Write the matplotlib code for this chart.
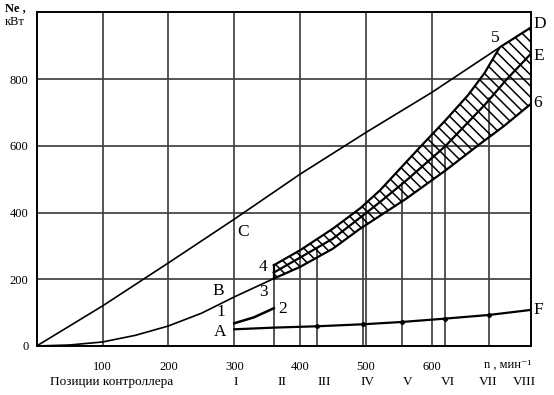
import matplotlib.pyplot as plt
from matplotlib.transforms import blended_transform_factory

plt.rcParams['font.family'] = ['Liberation Serif', 'DejaVu Serif']
plt.rcParams['hatch.linewidth'] = 1.1

# Лінія OC-5 (обмеження потужності)
c_n = [0, 100, 200, 300, 400, 500, 600, 703]
c_N = [0, 120, 249, 380, 515, 640, 760, 895]

# Крива OB-3
b_n = [0, 50, 100, 150, 200, 250, 300, 360]
b_N = [0, 3, 12, 32, 60, 98, 147, 202]

# Зона (верхня, середня, нижня межі)
up_n = [360, 400, 450, 492, 521, 583, 620, 655, 680, 703, 750]
up_N = [242, 287, 352, 414, 466, 598, 675, 752, 818, 895, 954]
mid_n = [360, 400, 450, 492, 521, 560, 620, 680, 714, 750]
mid_N = [220, 265, 322, 386, 431, 494, 598, 722, 800, 875]
low_n = [360, 400, 450, 490, 560, 620, 668, 710, 750]
low_N = [202, 237, 292, 350, 440, 525, 598, 660, 725]

# Лінія 1-2 та A-F
l12_n = [300, 330, 360]
l12_N = [68, 86, 113]
af_n = [300, 360, 425, 495, 555, 620, 687, 750]
af_N = [50, 55, 59, 65, 72, 82, 93, 108]

# Позиції контролера
pos_labels = ['I', 'II', 'III', 'IV', 'V', 'VI', 'VII', 'VIII']
pos_label_n = [302, 372, 437, 503, 563, 624, 686, 741]
pos_n = [360, 425, 496, 555, 620, 687]
pos_top = [242, 290, 386, 488, 598, 742]

# Позначки точок
marks = ['C', 'B', '1', 'A', '4', '3', '2', '5']
marks_n = [314, 275, 279, 279, 343, 345, 374, 696]
marks_N = [342, 164, 102, 43, 237, 161, 111, 924]
right_marks = ['D', 'E', '6', 'F']
right_N = [965, 870, 729, 108]

fig = plt.figure(figsize=(5.54, 3.95), dpi=100)
ax = fig.add_axes([0.0662, 0.1241, 0.8917, 0.8448])
ax.set_xlim(0, 750)
ax.set_ylim(0, 1000)

grid_kw = dict(color='0.25', lw=1.25, zorder=1)
for x in [100, 200, 300, 400, 500, 600]:
    ax.axvline(x, **grid_kw)
for y in [200, 400, 600, 800]:
    ax.axhline(y, **grid_kw)
for x, top in zip(pos_n, pos_top):
    ax.plot([x, x], [0, top], **grid_kw)

for s in ax.spines.values():
    s.set_linewidth(1.4)

ax.plot(c_n, c_N, color='black', lw=1.2, zorder=3)
ax.plot(b_n, b_N, color='black', lw=1.2, zorder=3)

# Заштрихована зона
ax.fill(up_n + low_n[::-1], up_N + low_N[::-1], facecolor='none',
        edgecolor='black', lw=0, hatch='\\\\\\', zorder=2)
ax.plot(up_n, up_N, color='black', lw=1.6, zorder=3)
ax.plot(mid_n, mid_N, color='black', lw=1.6, zorder=3)
ax.plot(low_n, low_N, color='black', lw=1.6, zorder=3)
ax.plot([up_n[0], low_n[0]], [up_N[0], low_N[0]], color='black', lw=1.6, zorder=3)

ax.plot(l12_n, l12_N, color='black', lw=1.8, zorder=3)
ax.plot(af_n, af_N, color='black', lw=1.6, zorder=3,
        marker='o', ms=2.5, markevery=[2, 3, 4, 5, 6])

for t, x, y in zip(marks, marks_n, marks_N):
    ax.text(x, y, t, fontsize=12.5, ha='center', va='center')
for t, y in zip(right_marks, right_N):
    ax.text(754, y, t, fontsize=12.5, ha='left', va='center', clip_on=False)

ax.set_xticks([100, 200, 300, 400, 500, 600])
ax.set_xticklabels(['100', '200', '300', '400', '500', '600'])
ax.set_yticks([0, 200, 400, 600, 800])
ax.set_yticklabels(['0', '200', '400', '600', '800'])
ax.tick_params(length=0, labelsize=9)
ax.tick_params(axis='x', pad=11)
ax.tick_params(axis='y', pad=6)

trans = blended_transform_factory(ax.transData, ax.transAxes)
ax.text(679, -0.057, 'n , мин⁻¹', transform=trans, fontsize=9,
        ha='left', va='center', clip_on=False)
for t, x in zip(pos_labels, pos_label_n):
    ax.text(x, -0.108, t, transform=trans, fontsize=9.5,
            ha='center', va='center', clip_on=False)
ax.text(20, -0.108, 'Позиции контроллера', transform=trans, fontsize=9.5,
        ha='left', va='center', clip_on=False)

fig.text(5 / 554, 1 - 8 / 395, 'Ne ,', fontsize=9, va='center', ha='left',
         fontweight='bold')
fig.text(5 / 554, 1 - 22 / 395, 'кВт', fontsize=9, va='center', ha='left')

fig.savefig('out.png', dpi=100)
